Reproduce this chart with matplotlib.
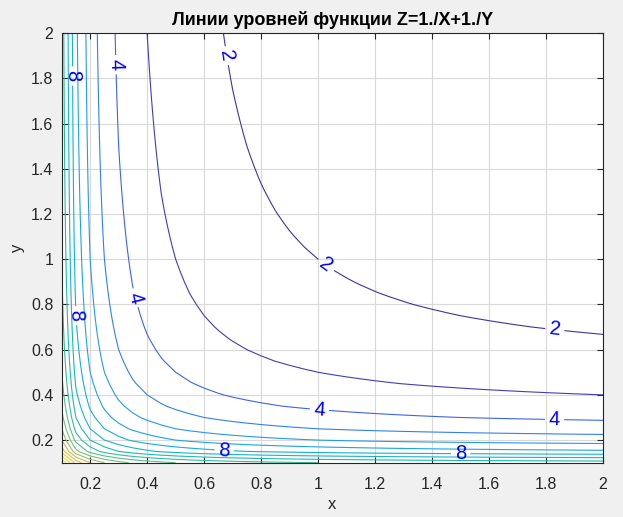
import numpy as np
import matplotlib
matplotlib.use("Agg")
import matplotlib.pyplot as plt
from matplotlib.colors import LinearSegmentedColormap, Normalize

# Data
x_vals = np.arange(0.1, 2.0001, 0.05)
y_vals = np.arange(0.1, 2.0001, 0.05)
levels = [2, 3, 4, 5, 6, 7, 8, 9, 10, 11, 12, 13, 14, 15, 16, 17, 18, 19]
label_levels = [2, 4, 8]
label_points = [(0.68, 1.9), (1.02, 0.96), (1.83, 0.68),
                (0.29, 1.86), (0.33, 0.82), (1.01, 0.42), (1.83, 0.29),
                (0.13, 1.81), (0.14, 0.75), (0.67, 0.14), (1.5, 0.13)]
xticks = [0.2, 0.4, 0.6, 0.8, 1, 1.2, 1.4, 1.6, 1.8, 2]
yticks = [0.2, 0.4, 0.6, 0.8, 1, 1.2, 1.4, 1.6, 1.8, 2]

X, Y = np.meshgrid(x_vals, y_vals)
Z = 1.0 / X + 1.0 / Y

parula_pts = [(0.22, 0.14, 0.52), (0.25, 0.20, 0.62), (0.26, 0.24, 0.72),
              (0.24, 0.40, 0.92),
              (0.1540, 0.5902, 0.9218), (0.0689, 0.6948, 0.8394),
              (0.1380, 0.7408, 0.6330), (0.4420, 0.7481, 0.5033),
              (0.7964, 0.7287, 0.3410), (0.9892, 0.8136, 0.1885),
              (0.9769, 0.9839, 0.0805)]
pos = [0.0, 0.05, 0.105, 0.16, 0.25, 0.375, 0.5, 0.625, 0.75, 0.875, 1.0]
parula = LinearSegmentedColormap.from_list("parula", list(zip(pos, parula_pts)))
norm = Normalize(vmin=Z.min(), vmax=Z.max())

plt.rcParams['font.family'] = ['Liberation Sans', 'DejaVu Sans']
fig = plt.figure(figsize=(6.23, 5.17), dpi=100, facecolor='#f0f0f0')
ax = fig.add_axes([0.099, 0.105, 0.869, 0.831])
ax.set_facecolor('white')

other_levels = [lv for lv in levels if lv not in label_levels]
ax.contour(X, Y, Z, levels=other_levels, cmap=parula, norm=norm, linewidths=0.8)
cs_lab = ax.contour(X, Y, Z, levels=label_levels, cmap=parula, norm=norm,
                    linewidths=0.8)
ax.clabel(cs_lab, inline=True, fontsize=14.5, colors='blue',
          fmt='%g', manual=label_points, inline_spacing=4)

ax.set_xlim(0.1, 2)
ax.set_ylim(0.1, 2)
ax.set_xticks(xticks)
ax.set_yticks(yticks)
ax.set_xticklabels([f"{v:g}" for v in xticks])
ax.set_yticklabels([f"{v:g}" for v in yticks])
ax.tick_params(direction='in', top=True, right=True, labelsize=11.5,
               colors='#262626', length=4, width=0.8)
ax.tick_params(axis='x', pad=10)
ax.tick_params(axis='y', pad=6)
ax.grid(True, color='#d9d9d9', linewidth=0.8)
ax.set_axisbelow(True)
for s in ax.spines.values():
    s.set_color('#262626')
    s.set_linewidth(0.8)
ax.set_xlabel('x', fontsize=12, color='#262626', labelpad=4)
ax.set_ylabel('y', fontsize=12, color='#262626', labelpad=4)
ax.set_title('Линии уровней функции Z=1./X+1./Y', fontsize=13,
             fontweight='bold', color='black', pad=6)

fig.savefig('out.png', dpi=100, facecolor=fig.get_facecolor())
